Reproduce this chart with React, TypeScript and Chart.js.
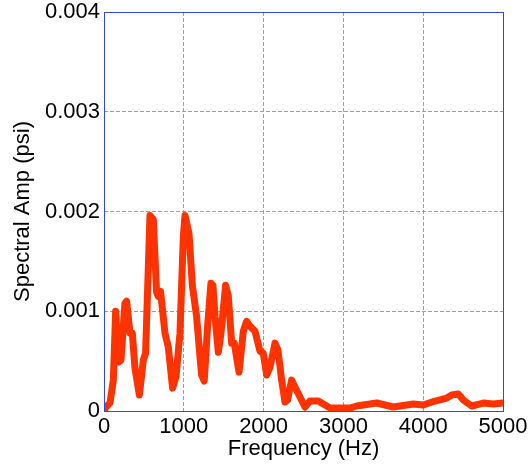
import React, { useEffect, useRef } from "react";
import { Chart, registerables } from "chart.js";

Chart.register(...registerables);

const frequencyHz = [0, 12, 75, 117, 146, 180, 213, 262, 283, 326, 355, 388, 443, 493, 521, 576, 618, 659, 680, 709, 764, 806, 860, 902, 952, 994, 1015, 1065, 1107, 1160, 1223, 1256, 1298, 1340, 1365, 1391, 1432, 1466, 1524, 1557, 1600, 1633, 1692, 1746, 1787, 1830, 1892, 1955, 1996, 2038, 2080, 2143, 2180, 2226, 2268, 2300, 2351, 2393, 2519, 2581, 2686, 2832, 3000, 3083, 3166, 3417, 3626, 3876, 4000, 4148, 4294, 4357, 4440, 4503, 4607, 4753, 4878, 5000];
const spectralAmp = [0.00002, 0.00003, 0.00008, 0.00031, 0.001, 0.00049, 0.00051, 0.00108, 0.0011, 0.00078, 0.00078, 0.00043, 0.00016, 0.00051, 0.00058, 0.00196, 0.00192, 0.00119, 0.00115, 0.0012, 0.00078, 0.00064, 0.00023, 0.00034, 0.00078, 0.00175, 0.00196, 0.00178, 0.00126, 0.00095, 0.00036, 0.0003, 0.00085, 0.00128, 0.00126, 0.00095, 0.00059, 0.00078, 0.00126, 0.00116, 0.00068, 0.00068, 0.00039, 0.0008, 0.0009, 0.00085, 0.0008, 0.0006, 0.00058, 0.00036, 0.00044, 0.00068, 0.00061, 0.00031, 0.00009, 0.00011, 0.00031, 0.00024, 0.00004, 0.0001, 0.0001, 0.00003, 0.00003, 0.00003, 0.00005, 0.00008, 0.00004, 0.00007, 0.00006, 0.0001, 0.00013, 0.00016, 0.00017, 0.00011, 0.00005, 0.00008, 0.00007, 0.00008];

const xTicks = [0, 1000, 2000, 3000, 4000, 5000];
const yTicks = [0, 0.001, 0.002, 0.003, 0.004];

const FONT = "'Liberation Sans', Arial, sans-serif";

const boxPlugin = {
  id: "boxPlugin",
  afterDraw(chart: any) {
    const { ctx, chartArea } = chart;
    ctx.save();
    ctx.strokeStyle = "#3347dd";
    ctx.lineWidth = 1;
    ctx.strokeRect(
      Math.round(chartArea.left) + 0.5,
      Math.round(chartArea.top) + 0.5,
      Math.round(chartArea.right - chartArea.left),
      Math.round(chartArea.bottom - chartArea.top)
    );
    ctx.restore();
  },
};

export default function App() {
  const ref = useRef<HTMLCanvasElement | null>(null);

  useEffect(() => {
    document.body.style.margin = "0";
    const canvas = ref.current;
    if (!canvas) return;
    const points = frequencyHz.map((f, i) => ({ x: f, y: spectralAmp[i] }));
    const chart = new Chart(canvas, {
      type: "line",
      data: {
        datasets: [
          {
            data: points,
            borderColor: "#ff3300",
            borderWidth: 7,
            pointRadius: 0,
            tension: 0,
            borderJoinStyle: "round",
            borderCapStyle: "round",
            fill: false,
          },
        ],
      },
      options: {
        animation: false,
        responsive: false,
        maintainAspectRatio: false,
        layout: { padding: { left: 10, right: 26, top: 12, bottom: 4 } },
        plugins: { legend: { display: false }, tooltip: { enabled: false } },
        scales: {
          x: {
            type: "linear",
            min: 0,
            max: 5000,
            afterBuildTicks: (s: any) => {
              s.ticks = xTicks.map((v) => ({ value: v }));
            },
            afterFit: (s: any) => {
              s.height = 51;
              s.paddingLeft = 0;
              s.paddingRight = 0;
            },
            ticks: {
              color: "#000",
              font: { family: FONT, size: 22 },
              padding: 3,
              maxRotation: 0,
              autoSkip: false,
              callback: (v: any) => String(v),
            },
            grid: {
              color: "#8a9af0",
              lineWidth: 1,
              drawTicks: false,
              tickLength: 0,
            },
            border: { display: false, dash: [4, 2] },
            title: {
              display: true,
              text: "Frequency (Hz)",
              color: "#000",
              font: { family: FONT, size: 22 },
              padding: 0,
            },
          },
          y: {
            type: "linear",
            min: 0,
            max: 0.004,
            afterBuildTicks: (s: any) => {
              s.ticks = yTicks.map((v) => ({ value: v }));
            },
            afterFit: (s: any) => {
              s.width = 94;
              s.paddingTop = 0;
              s.paddingBottom = 0;
            },
            ticks: {
              color: "#000",
              font: { family: FONT, size: 22 },
              padding: 4,
              autoSkip: false,
              callback: (v: any) => (v === 0 ? "0" : Number(v).toFixed(3)),
            },
            grid: {
              color: "#8a9af0",
              lineWidth: 1,
              drawTicks: false,
              tickLength: 0,
            },
            border: { display: false, dash: [4, 2] },
            title: {
              display: true,
              text: "Spectral Amp (psi)",
              color: "#000",
              font: { family: FONT, size: 22 },
              padding: 0,
            },
          },
        },
      },
      plugins: [boxPlugin],
    } as any);
    return () => chart.destroy();
  }, []);

  return (
    <div style={{ width: 529, height: 466, position: "relative" }}>
      <canvas ref={ref} width={529} height={466} style={{ display: "block" }} />
    </div>
  );
}
